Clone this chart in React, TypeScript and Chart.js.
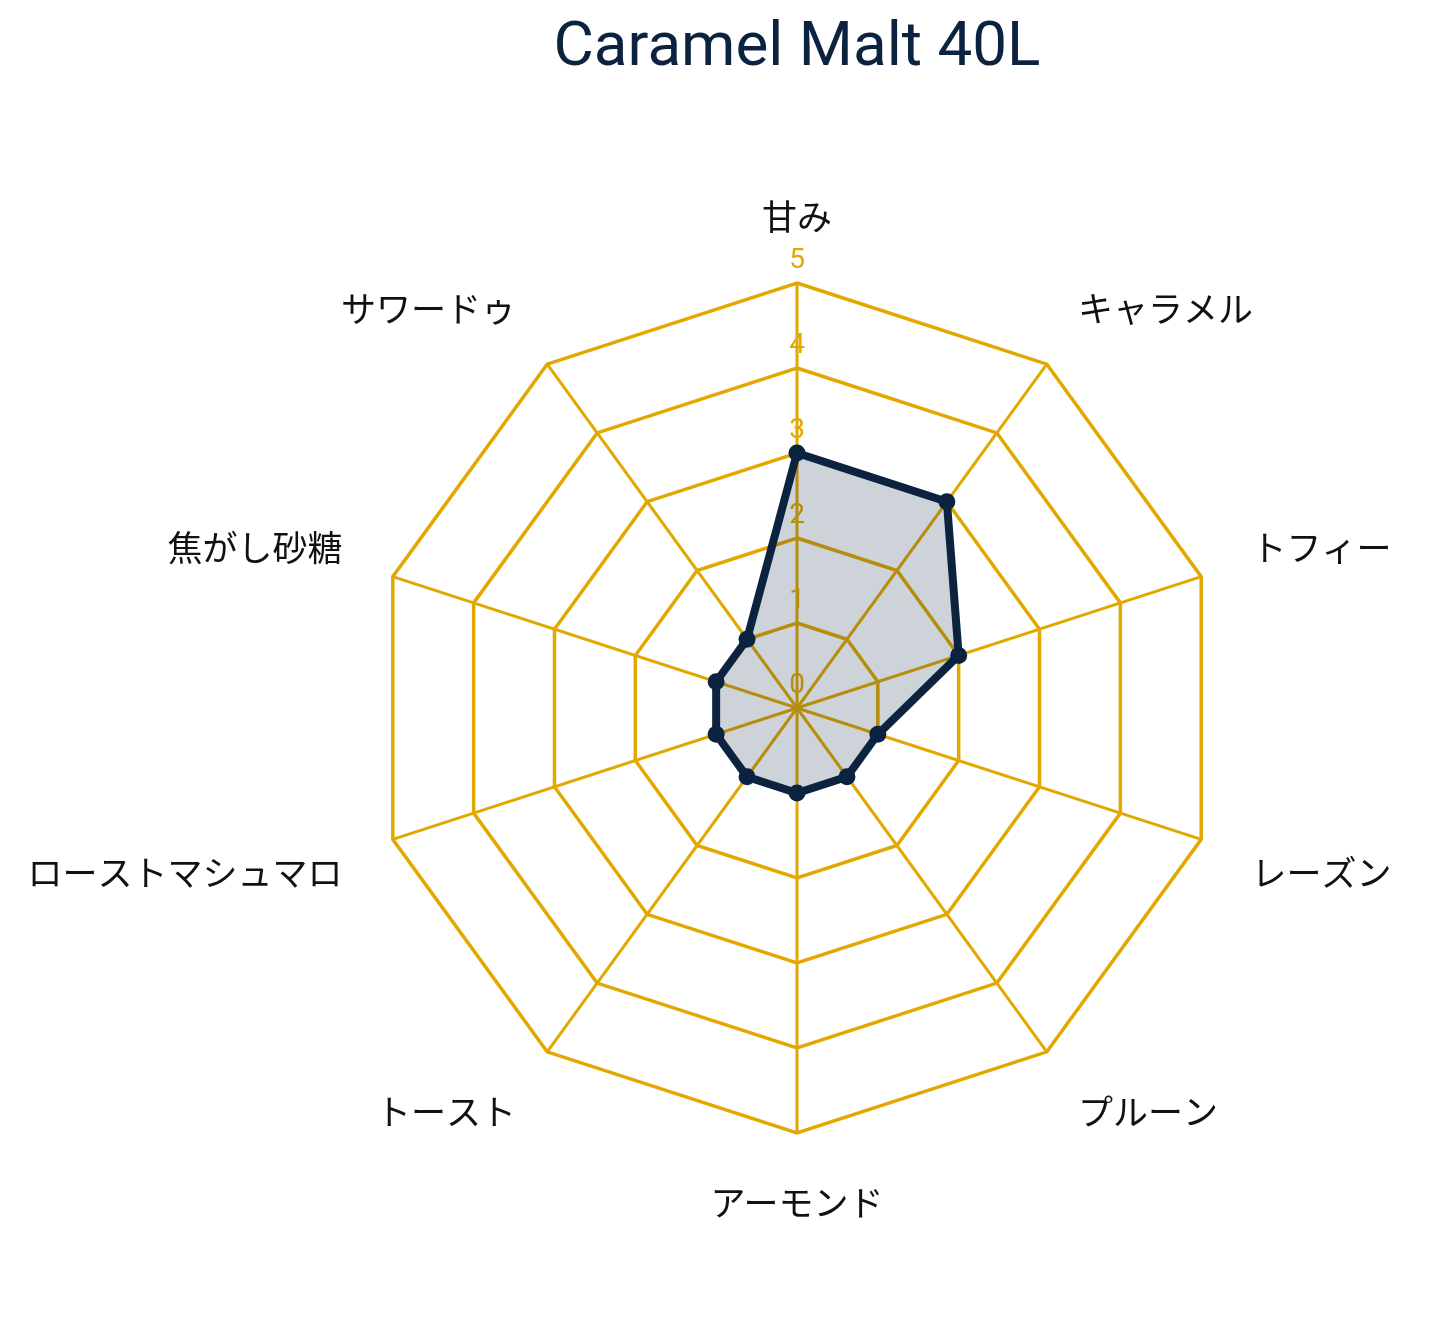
import { useEffect, useRef } from 'react';
import { Chart, registerables } from 'chart.js';

Chart.register(...registerables);

const chartTitle = 'Caramel Malt 40L';
const flavorLabels = ['甘み', 'キャラメル', 'トフィー', 'レーズン', 'プルーン', 'アーモンド', 'トースト', 'ローストマシュマロ', '焦がし砂糖', 'サワードゥ'];
const flavorScores = [3, 3, 2, 1, 1, 1, 1, 1, 1, 1];
const tickValues = [0, 1, 2, 3, 4, 5];

const NAVY = '#0c2340';
const GOLD = '#e2a800';
const LABEL_FONT = "35px 'Noto Sans CJK JP', 'Noto Sans', sans-serif";

// ticks, point labels and title drawn by hand so they sit where the reference puts them
const radarText = {
  id: 'radarText',
  beforeDatasetsDraw(chart) {
    const r = chart.scales.r;
    const ctx = chart.ctx;
    ctx.save();
    ctx.fillStyle = GOLD;
    ctx.font = '400 28px Roboto';
    ctx.textAlign = 'center';
    ctx.textBaseline = 'alphabetic';
    tickValues.forEach((v) => {
      const y = r.yCenter - r.getDistanceFromCenterForValue(v) - 15;
      ctx.fillText(String(v), r.xCenter, y);
    });
    ctx.restore();
  },
  afterDraw(chart) {
    const r = chart.scales.r;
    const ctx = chart.ctx;
    ctx.save();
    ctx.fillStyle = '#111111';
    ctx.font = LABEL_FONT;
    ctx.textBaseline = 'middle';
    flavorLabels.forEach((label, i) => {
      const pos = r.getPointPosition(i, r.drawingArea + 53);
      const deg = Math.round((r.getIndexAngle(i) * 180) / Math.PI) % 360;
      let align = 'center';
      if (deg > 0 && deg < 180) align = 'left';
      if (deg > 180) align = 'right';
      let dy = 0;
      if (deg < 90 || deg > 270) dy = -13;
      else if (deg > 90 && deg < 270) dy = 17;
      ctx.textAlign = align;
      ctx.fillText(label, pos.x, pos.y + dy);
    });

    ctx.fillStyle = NAVY;
    ctx.font = '400 62px Roboto';
    ctx.textAlign = 'center';
    ctx.textBaseline = 'alphabetic';
    ctx.fillText(chartTitle, r.xCenter, 57);
    ctx.restore();
  },
};

const App = () => {
  const canvasRef = useRef(null);

  useEffect(() => {
    const canvas = canvasRef.current;
    if (!canvas) {
      return;
    }

    const chart = new Chart(canvas, {
      type: 'radar',
      data: {
        labels: flavorLabels,
        datasets: [
          {
            label: chartTitle,
            data: flavorScores,
            borderColor: NAVY,
            backgroundColor: 'rgba(12, 35, 64, 0.2)',
            borderWidth: 8,
            pointRadius: 8.5,
            pointBackgroundColor: NAVY,
            pointBorderColor: NAVY,
            pointBorderWidth: 0,
            fill: true,
          },
        ],
      },
      options: {
        animation: false,
        responsive: true,
        maintainAspectRatio: false,
        layout: {
          padding: { left: 364, right: 199, top: 275, bottom: 182 },
        },
        plugins: {
          legend: { display: false },
          title: { display: false },
          tooltip: { enabled: false },
        },
        scales: {
          r: {
            min: 0,
            max: 5,
            ticks: { display: false, stepSize: 1 },
            grid: { color: GOLD, lineWidth: 3.5 },
            angleLines: { color: GOLD, lineWidth: 3 },
            pointLabels: { display: false },
          },
        },
      },
      plugins: [radarText],
    });

    return () => {
      chart.destroy();
    };
  }, []);

  return (
    <div style={{ position: 'relative', width: '100%', height: '1307px' }}>
      <canvas ref={canvasRef} />
    </div>
  );
};

export default App;
